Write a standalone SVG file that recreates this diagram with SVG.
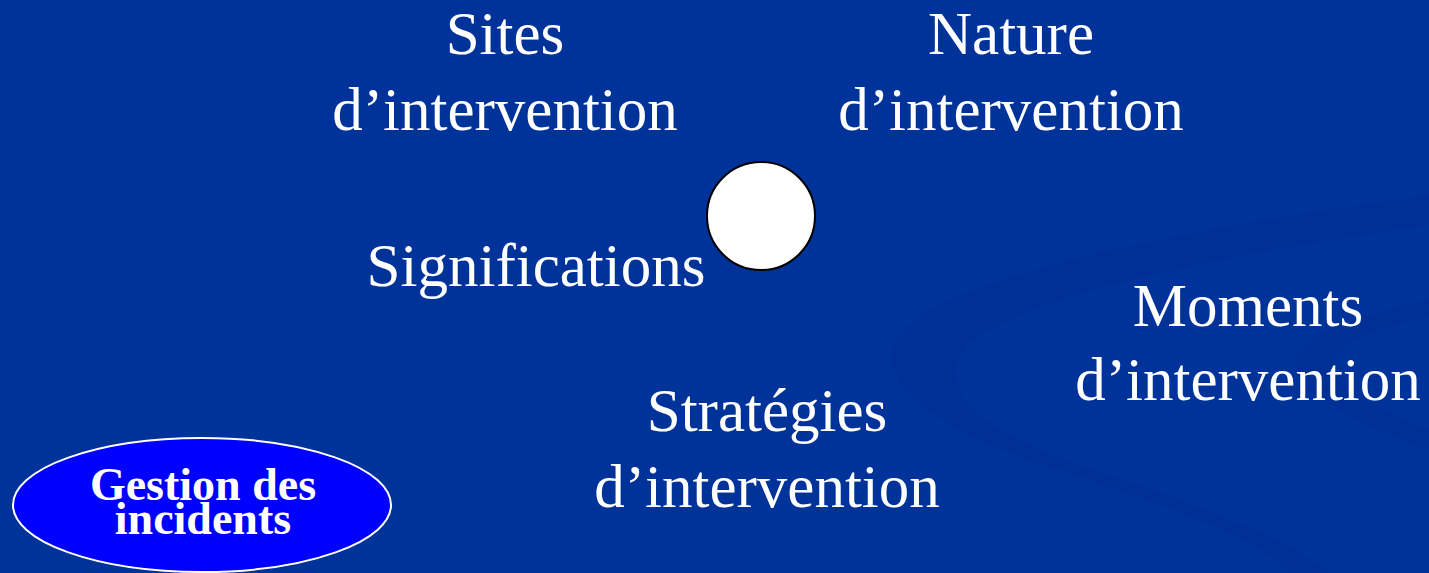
<svg xmlns="http://www.w3.org/2000/svg" width="1429" height="573" viewBox="0 0 1429 573">
<style>
.lbl{font-family:"Liberation Serif","Times New Roman",serif;font-size:61px;fill:#ffffff;text-anchor:middle}
.bold{font-family:"Liberation Serif","Times New Roman",serif;font-size:46px;font-weight:bold;fill:#ffffff;text-anchor:middle}
.sw{fill:#002f93;opacity:0.6}
</style>
<rect x="0" y="0" width="1429" height="573" fill="#003399"/>
<g id="swirl">
<path class="sw" d="M1429 195 C1250 220 1000 260 915 320 C860 360 900 420 1060 470 C1180 510 1260 540 1290 573 L1330 573 C1290 540 1200 505 1080 465 C950 420 930 370 980 335 C1060 285 1260 250 1429 225 Z"/>
<path class="sw" d="M1429 300 C1360 315 1300 335 1295 360 C1290 390 1350 420 1429 450 L1429 430 C1370 405 1330 385 1335 362 C1340 340 1380 325 1429 318 Z"/>
</g>
<g id="node-sites"><text class="lbl" x="505" y="54">Sites</text><text class="lbl" x="505" y="130">d’intervention</text></g>
<g id="node-nature"><text class="lbl" x="1011" y="54">Nature</text><text class="lbl" x="1011" y="130">d’intervention</text></g>
<g id="node-center"><circle cx="761" cy="216" r="54" fill="#ffffff" stroke="#000000" stroke-width="2"/></g>
<g id="node-significations"><text class="lbl" x="536" y="286">Significations</text></g>
<g id="node-moments"><text class="lbl" x="1248" y="326">Moments</text><text class="lbl" x="1248" y="400">d’intervention</text></g>
<g id="node-strategies"><text class="lbl" x="767" y="431">Stratégies</text><text class="lbl" x="767" y="507">d’intervention</text></g>
<g id="node-gestion"><ellipse cx="202" cy="505" rx="189" ry="67" fill="#0000ff" stroke="#ffffff" stroke-width="2"/><text class="bold" x="203" y="500">Gestion des</text><text class="bold" x="203" y="534">incidents</text></g>
<g id="connectors"></g>
</svg>
